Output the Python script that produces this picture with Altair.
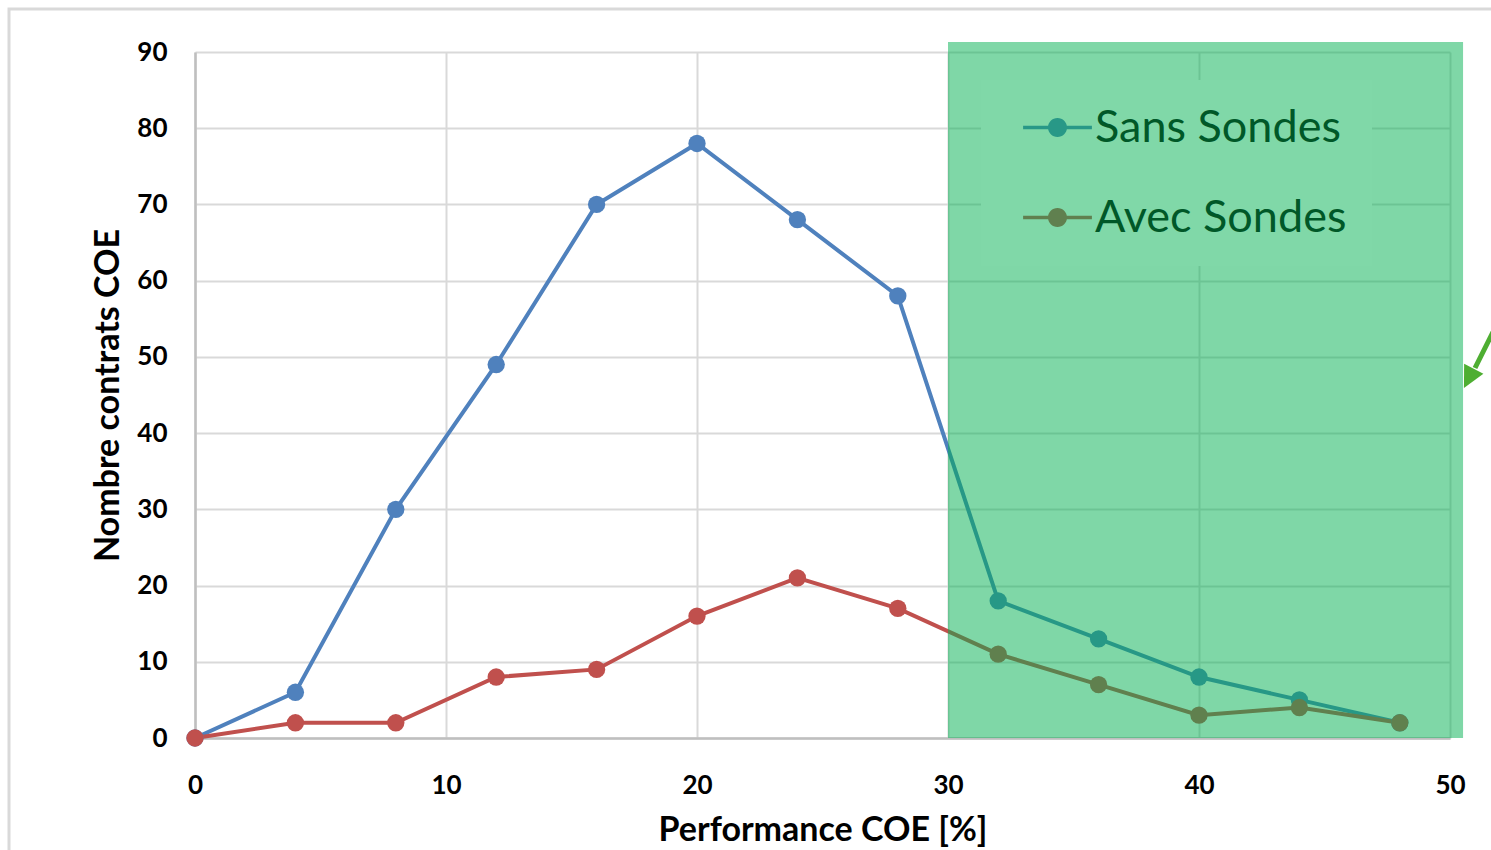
import altair as alt
import pandas as pd

# ---- data ----
x_vals = [0, 4, 8, 12, 16, 20, 24, 28, 32, 36, 40, 44, 48]
sans_sondes = [0, 6, 30, 49, 70, 78, 68, 58, 18, 13, 8, 5, 2]
avec_sondes = [0, 2, 2, 8, 9, 16, 21, 17, 11, 7, 3, 4, 2]
series_names = ["Sans Sondes", "Avec Sondes"]
series_colors = ["#4F81BD", "#C0504D"]
legend_colors = ["#289887", "#60804F"]  # series colours as seen through the green band
x_ticks = [0, 10, 20, 30, 40, 50]
y_ticks = [0, 10, 20, 30, 40, 50, 60, 70, 80, 90]
highlight_x = [30, 50.52]
highlight_y = [0, 91.3]

FONT = "Lato"

df = pd.DataFrame({
    "x": x_vals + x_vals,
    "y": sans_sondes + avec_sondes,
    "serie": [series_names[0]] * len(x_vals) + [series_names[1]] * len(x_vals),
})
band = pd.DataFrame({"x0": [highlight_x[0]], "x1": [highlight_x[1]],
                     "y0": [highlight_y[0]], "y1": [highlight_y[1]]})
one = pd.DataFrame({"a": [0]})

xs = alt.Scale(domain=[0, 50], nice=False, zero=False)
ys = alt.Scale(domain=[0, 90], nice=False)

x_axis = alt.Axis(values=x_ticks, title="Performance COE [%]", labelFont=FONT,
                  labelFontWeight="bold", labelFontSize=26, labelColor="black",
                  labelPadding=34, labelFlush=False, ticks=False, tickSize=0,
                  domainColor="#BFBFBF", domainWidth=2.5, gridColor="#D9D9D9",
                  gridWidth=2, titleFont=FONT, titleFontSize=34,
                  titleFontWeight="bold", titleColor="black", titleY=102,
                  titleBaseline="alphabetic")
y_axis = alt.Axis(values=y_ticks, title="Nombre contrats COE", labelFont=FONT,
                  labelFontWeight="bold", labelFontSize=26, labelColor="black",
                  labelPadding=28, labelFlush=False, ticks=False, tickSize=0,
                  domainColor="#BFBFBF", domainWidth=2.5, gridColor="#D9D9D9",
                  gridWidth=2, titleFont=FONT, titleFontSize=34,
                  titleFontWeight="bold", titleColor="black", titleX=-77,
                  titleY=343, titleBaseline="alphabetic")

color_scale = alt.Scale(domain=series_names, range=series_colors)

base = alt.Chart(df)

lines = base.mark_line(strokeWidth=4).encode(
    x=alt.X("x:Q", scale=xs, axis=x_axis),
    y=alt.Y("y:Q", scale=ys, axis=y_axis),
    color=alt.Color("serie:N", scale=color_scale, legend=None),
    detail="serie:N",
)

points = base.mark_point(filled=True, size=300, opacity=1).encode(
    x=alt.X("x:Q", scale=xs),
    y=alt.Y("y:Q", scale=ys),
    color=alt.Color("serie:N", scale=color_scale, legend=None),
)

overlay = alt.Chart(band).mark_rect(color="#00B050", opacity=0.5).encode(
    x=alt.X("x0:Q", scale=xs), x2="x1:Q",
    y=alt.Y("y0:Q", scale=ys), y2="y1:Q",
)

SYMBOL = ("M-1.72,-0.09L-0.44,-0.09L-0.44,0.09L-1.72,0.09Z "
          "M0.44,-0.09L1.72,-0.09L1.72,0.09L0.44,0.09Z "
          "M0.475,0A0.475,0.475,0,1,1,-0.475,0A0.475,0.475,0,1,1,0.475,0Z")

legend_layer = base.mark_point(filled=True, size=10, opacity=0).encode(
    x=alt.X("x:Q", scale=xs),
    y=alt.Y("y:Q", scale=ys),
    color=alt.Color("serie:N",
                    scale=alt.Scale(domain=series_names, range=legend_colors),
                    legend=alt.Legend(title=None, orient="none", legendX=786,
                                      legendY=28, direction="vertical",
                                      symbolType=SYMBOL, symbolSize=1600,
                                      symbolStrokeWidth=0, symbolOffset=29,
                                      symbolOpacity=1, labelOffset=15,
                                      labelFont=FONT, labelFontSize=45,
                                      labelColor="#005828", padding=25,
                                      rowPadding=44, fillColor="#80D8A8",
                                      labelLimit=0)),
)

frame = alt.Chart(one).mark_rect(fillOpacity=0, stroke="#D9D9D9", strokeWidth=3).encode(
    x=alt.value(-186), x2=alt.value(1320), y=alt.value(-43), y2=alt.value(820)
)

arrow_shaft = alt.Chart(one).mark_rule(color="#4EAE32", strokeWidth=5).encode(
    x=alt.value(1303), y=alt.value(270), x2=alt.value(1280), y2=alt.value(316)
)
arrow_head = alt.Chart(one).mark_point(shape="M0,-1L0.9,0.8L-0.9,0.8Z", filled=True,
                                       size=576, angle=207, opacity=1,
                                       color="#4EAE32").encode(
    x=alt.value(1274.4), y=alt.value(325.3)
)

chart = alt.layer(lines, points, legend_layer, overlay, frame, arrow_shaft, arrow_head).resolve_scale(
    color="independent"
).properties(
    width=1255, height=686,
    autosize=alt.AutoSizeParams(type="none"),
    padding={"left": 195, "top": 52, "right": 41, "bottom": 112},
    background="white",
).configure_view(stroke=None)

chart.save("out.html", embed_options={"renderer": "svg", "actions": False})
